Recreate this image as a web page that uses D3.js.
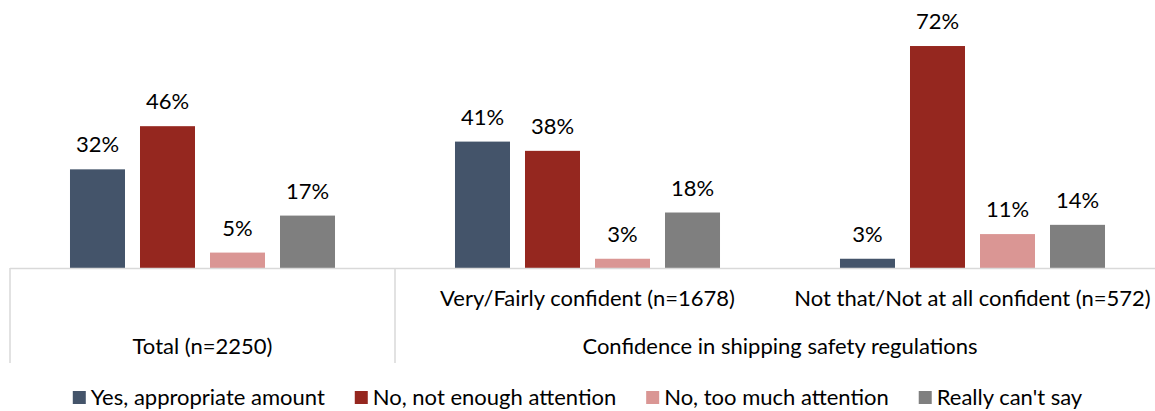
<!DOCTYPE html>
<html>
<head>
<meta charset="utf-8">
<script src="https://cdn.jsdelivr.net/npm/d3@7"></script>
<style>
  html, body { margin: 0; padding: 0; background: #fff; }
  svg { display: block; font-family: Lato, "Open Sans", sans-serif; }
</style>
</head>
<body>
<svg id="chart" width="1155" height="411"></svg>
<script>
// ---- data ----
const groups = ["Total (n=2250)", "Very/Fairly confident (n=1678)", "Not that/Not at all confident (n=572)"];
const subLabels = ["", "Very/Fairly confident (n=1678)", "Not that/Not at all confident (n=572)"];
const topLabels = ["Total (n=2250)", "Confidence in shipping safety regulations"];
const seriesNames = ["Yes, appropriate amount", "No, not enough attention", "No, too much attention", "Really can't say"];
const seriesColors = ["#44546A", "#95271F", "#DA9694", "#7F7F7F"];
const yesValues = [32, 41, 3];
const notEnoughValues = [46, 38, 72];
const tooMuchValues = [5, 3, 11];
const cantSayValues = [17, 18, 14];
const seriesValues = [yesValues, notEnoughValues, tooMuchValues, cantSayValues];

// ---- layout ----
const svg = d3.select("#chart");
const W = 1155;
const left = 10, right = 1165, base = 268, axisBottom = 363;
const fontSize = 22, legendFont = 22;

const x0 = d3.scaleBand().domain(groups).range([left, right]).padding(0);
const x1 = d3.scaleBand().domain(seriesNames).range([0, x0.bandwidth()])
  .paddingInner(15 / 70).paddingOuter(0.857);
const y = d3.scaleLinear().domain([0, 80]).range([base, base - 80 * 3.083]);

const rows = [];
groups.forEach((g, gi) => seriesNames.forEach((s, si) => rows.push({ g, s, si, v: seriesValues[si][gi] })));

const gBars = svg.append("g");
gBars.selectAll("rect").data(rows).join("rect")
  .attr("x", d => x0(d.g) + x1(d.s))
  .attr("y", d => y(d.v))
  .attr("width", x1.bandwidth())
  .attr("height", d => y(0) - y(d.v))
  .attr("fill", d => seriesColors[d.si]);

gBars.selectAll("text").data(rows).join("text")
  .attr("x", d => x0(d.g) + x1(d.s) + x1.bandwidth() / 2)
  .attr("y", d => y(d.v) - 17)
  .attr("text-anchor", "middle")
  .attr("font-size", fontSize)
  .attr("fill", "#000")
  .text(d => d.v + "%");

// ---- multi-level category axis ----
const axisColor = "#D9D9D9";
const ax = svg.append("g");
ax.append("line").attr("x1", left).attr("x2", right).attr("y1", base + 0.5).attr("y2", base + 0.5)
  .attr("stroke", axisColor).attr("stroke-width", 1.5);
[x0(groups[0]), x0(groups[1])].forEach(xv => {
  ax.append("line").attr("x1", xv).attr("x2", xv).attr("y1", base).attr("y2", axisBottom)
    .attr("stroke", axisColor).attr("stroke-width", 1.5);
});
ax.selectAll("text.sub").data(groups).join("text").attr("class", "sub")
  .attr("x", g => x0(g) + x0.bandwidth() / 2)
  .attr("y", 306)
  .attr("text-anchor", "middle")
  .attr("font-size", fontSize)
  .text((g, i) => subLabels[i]);
const topCenters = [
  x0(groups[0]) + x0.bandwidth() / 2,
  (x0(groups[1]) + x0(groups[2]) + x0.bandwidth()) / 2
];
ax.selectAll("text.top").data(topLabels).join("text").attr("class", "top")
  .attr("x", (t, i) => topCenters[i])
  .attr("y", 354)
  .attr("text-anchor", "middle")
  .attr("font-size", fontSize)
  .text(t => t);

// ---- legend ----
const leg = svg.append("g");
const sq = 13, gapSq = 5, gapItem = 30;
const items = leg.selectAll("g").data(seriesNames).join("g");
items.append("rect").attr("width", sq).attr("height", sq).attr("y", 391)
  .attr("fill", (d, i) => seriesColors[i]);
items.append("text").attr("x", sq + gapSq).attr("y", 404.5)
  .attr("font-size", legendFont).text(d => d);
let widths = [];
items.each(function () { widths.push(d3.select(this).select("text").node().getComputedTextLength()); });
const total = d3.sum(widths, w => sq + gapSq + w) + gapItem * (widths.length - 1);
let cx = W / 2 - total / 2;
items.each(function (d, i) {
  d3.select(this).attr("transform", `translate(${cx},0)`);
  cx += sq + gapSq + widths[i] + gapItem;
});
</script>
</body>
</html>
